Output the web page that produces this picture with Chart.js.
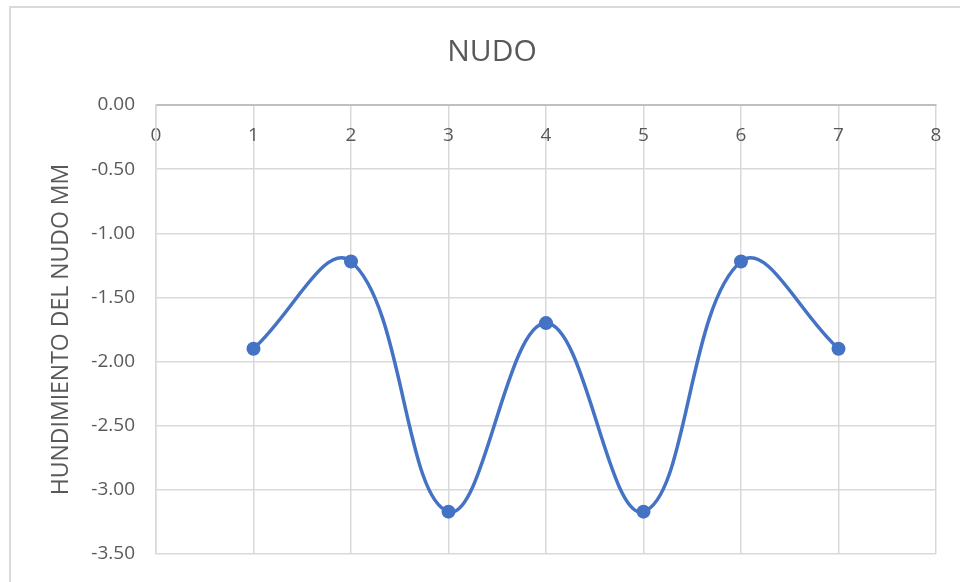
<!DOCTYPE html>
<html>
<head>
<meta charset="utf-8">
<script src="https://cdn.jsdelivr.net/npm/chart.js@4/dist/chart.umd.min.js"></script>
<style>
  html, body { margin: 0; padding: 0; background: #fff; }
  #wrap { width: 960px; height: 582px; }
</style>
</head>
<body>
<div id="wrap"><canvas id="nudoChart"></canvas></div>
<script>
const nudos = [1, 2, 3, 4, 5, 6, 7];
const hundimiento = [-1.90, -1.22, -3.17, -1.70, -3.17, -1.22, -1.90];
const xTicks = [0, 1, 2, 3, 4, 5, 6, 7, 8];
const yTicks = [0, -0.5, -1, -1.5, -2, -2.5, -3, -3.5];

const textColor = '#595959';
const gridColor = '#d9d9d9';

// marco gris del grafico
const frame = {
    id: 'frame',
    beforeDraw(chart) {
        const ctx = chart.ctx;
        ctx.save();
        ctx.strokeStyle = '#d9d9d9';
        ctx.lineWidth = 2;
        ctx.strokeRect(10, 7, 980, 600);
        ctx.restore();
    }
};

const ctx = document.getElementById('nudoChart').getContext('2d');

new Chart(ctx, {
    type: 'scatter',
    data: {
        datasets: [{
            data: nudos.map((x, i) => ({ x: x, y: hundimiento[i] })),
            showLine: true,
            borderColor: '#4472C4',
            backgroundColor: '#4472C4',
            borderWidth: 3.5,
            tension: 0.4,
            pointRadius: 7,
            pointBorderWidth: 0
        }]
    },
    options: {
        responsive: true,
        maintainAspectRatio: false,
        animation: false,
        layout: {
            padding: { left: 48, right: 24, top: 0, bottom: 28 }
        },
        scales: {
            x: {
                type: 'linear',
                position: { y: 0 },
                min: 0,
                max: 8,
                afterBuildTicks: scale => {
                    scale.ticks = xTicks.map(v => ({ value: v }));
                },
                grid: {
                    color: gridColor,
                    lineWidth: 1.5,
                    tickLength: 19,
                    tickColor: 'transparent'
                },
                border: {
                    color: '#bfbfbf',
                    width: 2
                },
                ticks: {
                    color: textColor,
                    padding: 0,
                    font: { family: 'Open Sans', size: 19 }
                }
            },
            y: {
                type: 'linear',
                min: -3.5,
                max: 0,
                afterBuildTicks: scale => {
                    scale.ticks = yTicks.map(v => ({ value: v }));
                },
                afterFit: scale => {
                    scale.width = 108;
                },
                grid: {
                    color: gridColor,
                    lineWidth: 1.5,
                    tickLength: 21,
                    tickColor: 'transparent'
                },
                border: {
                    color: gridColor,
                    width: 1.5
                },
                ticks: {
                    color: textColor,
                    padding: 0,
                    font: { family: 'Open Sans', size: 19 },
                    callback: v => v.toFixed(2)
                },
                title: {
                    display: true,
                    text: 'HUNDIMIENTO DEL NUDO MM',
                    color: textColor,
                    font: { family: 'Open Sans', size: 23 },
                    padding: { top: 0, bottom: 0 }
                }
            }
        },
        plugins: {
            legend: { display: false },
            tooltip: { enabled: false },
            title: {
                display: true,
                text: 'NUDO',
                color: textColor,
                font: { family: 'Open Sans', size: 30, weight: 'normal' },
                padding: { top: 34, bottom: 35 }
            }
        }
    },
    plugins: [frame]
});
</script>
</body>
</html>
